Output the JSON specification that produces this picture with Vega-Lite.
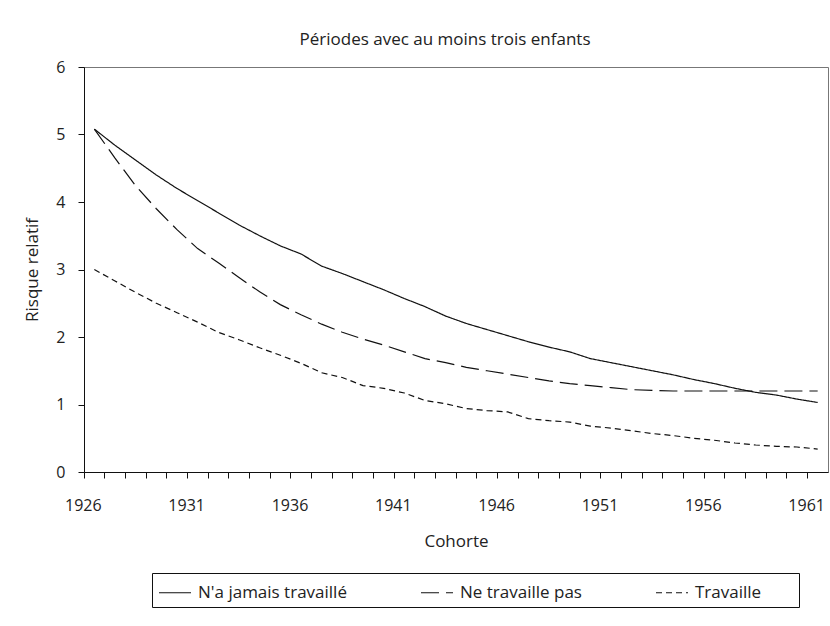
{
  "$schema": "https://vega.github.io/schema/vega-lite/v6.json",
  "autosize": {"type": "none"},
  "padding": {"left": 84, "top": 67, "right": 2, "bottom": 154},
  "width": 744,
  "height": 405,
  "background": "white",
  "title": {
    "text": "Périodes avec au moins trois enfants",
    "font": "Open Sans",
    "fontSize": 17,
    "fontWeight": "normal",
    "color": "#222",
    "anchor": "middle",
    "frame": "group",
    "dx": -11,
    "offset": 10
  },
  "config": {
    "view": {"stroke": "#777", "strokeWidth": 1},
    "axis": {
      "labelFont": "Open Sans",
      "titleFont": "Open Sans",
      "labelFontSize": 16,
      "titleFontSize": 17,
      "titleFontWeight": "normal",
      "labelColor": "#222",
      "titleColor": "#222",
      "domainColor": "#111",
      "tickColor": "#111",
      "grid": false
    },
    "legend": {
      "labelFont": "Open Sans",
      "labelFontSize": 17,
      "labelColor": "#222",
      "titleFont": "Open Sans",
      "titleFontSize": 17
    }
  },
  "data": {
    "values": [
      {"cohorte": 1926, "groupe": "N'a jamais travaillé", "risque": 5.08},
      {"cohorte": 1927, "groupe": "N'a jamais travaillé", "risque": 4.84},
      {"cohorte": 1928, "groupe": "N'a jamais travaillé", "risque": 4.62},
      {"cohorte": 1929, "groupe": "N'a jamais travaillé", "risque": 4.40},
      {"cohorte": 1930, "groupe": "N'a jamais travaillé", "risque": 4.20},
      {"cohorte": 1931, "groupe": "N'a jamais travaillé", "risque": 4.02},
      {"cohorte": 1932, "groupe": "N'a jamais travaillé", "risque": 3.84},
      {"cohorte": 1933, "groupe": "N'a jamais travaillé", "risque": 3.66},
      {"cohorte": 1934, "groupe": "N'a jamais travaillé", "risque": 3.50},
      {"cohorte": 1935, "groupe": "N'a jamais travaillé", "risque": 3.35},
      {"cohorte": 1936, "groupe": "N'a jamais travaillé", "risque": 3.23},
      {"cohorte": 1937, "groupe": "N'a jamais travaillé", "risque": 3.05},
      {"cohorte": 1938, "groupe": "N'a jamais travaillé", "risque": 2.94},
      {"cohorte": 1939, "groupe": "N'a jamais travaillé", "risque": 2.82},
      {"cohorte": 1940, "groupe": "N'a jamais travaillé", "risque": 2.70},
      {"cohorte": 1941, "groupe": "N'a jamais travaillé", "risque": 2.57},
      {"cohorte": 1942, "groupe": "N'a jamais travaillé", "risque": 2.45},
      {"cohorte": 1943, "groupe": "N'a jamais travaillé", "risque": 2.31},
      {"cohorte": 1944, "groupe": "N'a jamais travaillé", "risque": 2.20},
      {"cohorte": 1945, "groupe": "N'a jamais travaillé", "risque": 2.11},
      {"cohorte": 1946, "groupe": "N'a jamais travaillé", "risque": 2.02},
      {"cohorte": 1947, "groupe": "N'a jamais travaillé", "risque": 1.93},
      {"cohorte": 1948, "groupe": "N'a jamais travaillé", "risque": 1.85},
      {"cohorte": 1949, "groupe": "N'a jamais travaillé", "risque": 1.78},
      {"cohorte": 1950, "groupe": "N'a jamais travaillé", "risque": 1.68},
      {"cohorte": 1951, "groupe": "N'a jamais travaillé", "risque": 1.62},
      {"cohorte": 1952, "groupe": "N'a jamais travaillé", "risque": 1.56},
      {"cohorte": 1953, "groupe": "N'a jamais travaillé", "risque": 1.50},
      {"cohorte": 1954, "groupe": "N'a jamais travaillé", "risque": 1.44},
      {"cohorte": 1955, "groupe": "N'a jamais travaillé", "risque": 1.37},
      {"cohorte": 1956, "groupe": "N'a jamais travaillé", "risque": 1.31},
      {"cohorte": 1957, "groupe": "N'a jamais travaillé", "risque": 1.24},
      {"cohorte": 1958, "groupe": "N'a jamais travaillé", "risque": 1.18},
      {"cohorte": 1959, "groupe": "N'a jamais travaillé", "risque": 1.14},
      {"cohorte": 1960, "groupe": "N'a jamais travaillé", "risque": 1.08},
      {"cohorte": 1961, "groupe": "N'a jamais travaillé", "risque": 1.03},
      {"cohorte": 1926, "groupe": "Ne travaille pas", "risque": 5.08},
      {"cohorte": 1927, "groupe": "Ne travaille pas", "risque": 4.65},
      {"cohorte": 1928, "groupe": "Ne travaille pas", "risque": 4.24},
      {"cohorte": 1929, "groupe": "Ne travaille pas", "risque": 3.90},
      {"cohorte": 1930, "groupe": "Ne travaille pas", "risque": 3.59},
      {"cohorte": 1931, "groupe": "Ne travaille pas", "risque": 3.31},
      {"cohorte": 1932, "groupe": "Ne travaille pas", "risque": 3.10},
      {"cohorte": 1933, "groupe": "Ne travaille pas", "risque": 2.88},
      {"cohorte": 1934, "groupe": "Ne travaille pas", "risque": 2.67},
      {"cohorte": 1935, "groupe": "Ne travaille pas", "risque": 2.48},
      {"cohorte": 1936, "groupe": "Ne travaille pas", "risque": 2.33},
      {"cohorte": 1937, "groupe": "Ne travaille pas", "risque": 2.19},
      {"cohorte": 1938, "groupe": "Ne travaille pas", "risque": 2.07},
      {"cohorte": 1939, "groupe": "Ne travaille pas", "risque": 1.97},
      {"cohorte": 1940, "groupe": "Ne travaille pas", "risque": 1.88},
      {"cohorte": 1941, "groupe": "Ne travaille pas", "risque": 1.78},
      {"cohorte": 1942, "groupe": "Ne travaille pas", "risque": 1.68},
      {"cohorte": 1943, "groupe": "Ne travaille pas", "risque": 1.62},
      {"cohorte": 1944, "groupe": "Ne travaille pas", "risque": 1.55},
      {"cohorte": 1945, "groupe": "Ne travaille pas", "risque": 1.50},
      {"cohorte": 1946, "groupe": "Ne travaille pas", "risque": 1.45},
      {"cohorte": 1947, "groupe": "Ne travaille pas", "risque": 1.40},
      {"cohorte": 1948, "groupe": "Ne travaille pas", "risque": 1.35},
      {"cohorte": 1949, "groupe": "Ne travaille pas", "risque": 1.31},
      {"cohorte": 1950, "groupe": "Ne travaille pas", "risque": 1.28},
      {"cohorte": 1951, "groupe": "Ne travaille pas", "risque": 1.25},
      {"cohorte": 1952, "groupe": "Ne travaille pas", "risque": 1.22},
      {"cohorte": 1953, "groupe": "Ne travaille pas", "risque": 1.21},
      {"cohorte": 1954, "groupe": "Ne travaille pas", "risque": 1.20},
      {"cohorte": 1955, "groupe": "Ne travaille pas", "risque": 1.20},
      {"cohorte": 1956, "groupe": "Ne travaille pas", "risque": 1.20},
      {"cohorte": 1957, "groupe": "Ne travaille pas", "risque": 1.20},
      {"cohorte": 1958, "groupe": "Ne travaille pas", "risque": 1.20},
      {"cohorte": 1959, "groupe": "Ne travaille pas", "risque": 1.20},
      {"cohorte": 1960, "groupe": "Ne travaille pas", "risque": 1.20},
      {"cohorte": 1961, "groupe": "Ne travaille pas", "risque": 1.20},
      {"cohorte": 1926, "groupe": "Travaille", "risque": 3.00},
      {"cohorte": 1927, "groupe": "Travaille", "risque": 2.83},
      {"cohorte": 1928, "groupe": "Travaille", "risque": 2.66},
      {"cohorte": 1929, "groupe": "Travaille", "risque": 2.50},
      {"cohorte": 1930, "groupe": "Travaille", "risque": 2.36},
      {"cohorte": 1931, "groupe": "Travaille", "risque": 2.22},
      {"cohorte": 1932, "groupe": "Travaille", "risque": 2.07},
      {"cohorte": 1933, "groupe": "Travaille", "risque": 1.96},
      {"cohorte": 1934, "groupe": "Travaille", "risque": 1.84},
      {"cohorte": 1935, "groupe": "Travaille", "risque": 1.73},
      {"cohorte": 1936, "groupe": "Travaille", "risque": 1.61},
      {"cohorte": 1937, "groupe": "Travaille", "risque": 1.47},
      {"cohorte": 1938, "groupe": "Travaille", "risque": 1.40},
      {"cohorte": 1939, "groupe": "Travaille", "risque": 1.28},
      {"cohorte": 1940, "groupe": "Travaille", "risque": 1.24},
      {"cohorte": 1941, "groupe": "Travaille", "risque": 1.17},
      {"cohorte": 1942, "groupe": "Travaille", "risque": 1.06},
      {"cohorte": 1943, "groupe": "Travaille", "risque": 1.01},
      {"cohorte": 1944, "groupe": "Travaille", "risque": 0.94},
      {"cohorte": 1945, "groupe": "Travaille", "risque": 0.91},
      {"cohorte": 1946, "groupe": "Travaille", "risque": 0.89},
      {"cohorte": 1947, "groupe": "Travaille", "risque": 0.79},
      {"cohorte": 1948, "groupe": "Travaille", "risque": 0.76},
      {"cohorte": 1949, "groupe": "Travaille", "risque": 0.74},
      {"cohorte": 1950, "groupe": "Travaille", "risque": 0.68},
      {"cohorte": 1951, "groupe": "Travaille", "risque": 0.65},
      {"cohorte": 1952, "groupe": "Travaille", "risque": 0.61},
      {"cohorte": 1953, "groupe": "Travaille", "risque": 0.57},
      {"cohorte": 1954, "groupe": "Travaille", "risque": 0.54},
      {"cohorte": 1955, "groupe": "Travaille", "risque": 0.50},
      {"cohorte": 1956, "groupe": "Travaille", "risque": 0.47},
      {"cohorte": 1957, "groupe": "Travaille", "risque": 0.43},
      {"cohorte": 1958, "groupe": "Travaille", "risque": 0.40},
      {"cohorte": 1959, "groupe": "Travaille", "risque": 0.38},
      {"cohorte": 1960, "groupe": "Travaille", "risque": 0.37},
      {"cohorte": 1961, "groupe": "Travaille", "risque": 0.34}
    ]
  },
  "mark": {"type": "line", "color": "#111", "strokeWidth": 1.2},
  "encoding": {
    "x": {
      "field": "cohorte",
      "type": "ordinal",
      "scale": {"type": "band", "paddingInner": 0, "paddingOuter": 0},
      "axis": {
        "title": "Cohorte",
        "bandPosition": 0,
        "labelAngle": 0,
        "labelOverlap": false,
        "labelOffset": -11,
        "labelExpr": "(datum.value - 1926) % 5 == 0 ? datum.label : ''",
        "tickSize": 6,
        "labelPadding": 19,
        "titlePadding": 20
      }
    },
    "y": {
      "field": "risque",
      "type": "quantitative",
      "scale": {"domain": [0, 6], "nice": false},
      "axis": {
        "title": "Risque relatif",
        "values": [0, 1, 2, 3, 4, 5, 6],
        "tickSize": 6,
        "labelPadding": 13,
        "titlePadding": 14
      }
    },
    "strokeDash": {
      "field": "groupe",
      "type": "nominal",
      "scale": {
        "domain": ["N'a jamais travaillé", "Ne travaille pas", "Travaille"],
        "range": [[1, 0], [18, 7], [6, 4]]
      },
      "legend": {
        "title": " ",
        "titleOrient": "right",
        "titlePadding": 32,
        "orient": "none",
        "legendX": 68,
        "legendY": 506,
        "direction": "horizontal",
        "columns": 3,
        "gridAlign": "each",
        "columnPadding": 71,
        "symbolType": "M-1,0H1.56",
        "symbolSize": 625,
        "symbolStrokeWidth": 1.2,
        "symbolStrokeColor": "#111",
        "labelOffset": 13,
        "padding": 6,
        "strokeColor": "#111",
        "cornerRadius": 0
      }
    }
  }
}
